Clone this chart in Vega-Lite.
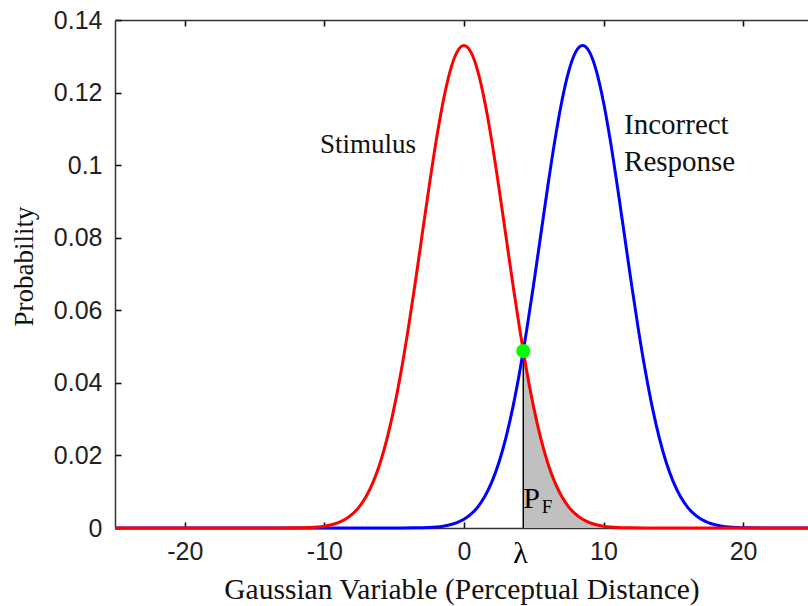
{
  "$schema": "https://vega.github.io/schema/vega-lite/v6.json",
  "width": 693,
  "height": 508,
  "autosize": {"type": "none"},
  "padding": {"left": 115, "top": 20, "right": 0, "bottom": 78},
  "background": "white",
  "config": {
    "view": {"stroke": null},
    "axis": {
      "domainColor": "#333333",
      "domainWidth": 1.5,
      "ticks": true,
      "tickColor": "#111111",
      "tickWidth": 1.6,
      "tickSize": -6,
      "grid": false,
      "labelFont": "Liberation Sans",
      "labelFontSize": 25,
      "labelColor": "#222222",
      "titleFont": "Liberation Serif",
      "titleFontWeight": "normal",
      "titleColor": "#111111"
    }
  },
  "datasets": {
    "red": [
      {"x": -25, "y": 0}, {"x": -13, "y": 0}, {"x": -12, "y": 0.00004}, {"x": -11.5, "y": 0.00009},
      {"x": -11, "y": 0.00016}, {"x": -10.5, "y": 0.00029}, {"x": -10, "y": 0.00051}, {"x": -9.5, "y": 0.00088},
      {"x": -9, "y": 0.00148}, {"x": -8.5, "y": 0.0024}, {"x": -8, "y": 0.0038}, {"x": -7.5, "y": 0.00584},
      {"x": -7, "y": 0.00874}, {"x": -6.5, "y": 0.01272}, {"x": -6, "y": 0.018}, {"x": -5.5, "y": 0.02477},
      {"x": -5, "y": 0.03316}, {"x": -4.5, "y": 0.04317}, {"x": -4, "y": 0.05467}, {"x": -3.5, "y": 0.06733},
      {"x": -3, "y": 0.08066}, {"x": -2.5, "y": 0.09397}, {"x": -2, "y": 0.10648}, {"x": -1.5, "y": 0.11735},
      {"x": -1, "y": 0.12579}, {"x": -0.5, "y": 0.13115}, {"x": 0, "y": 0.13298}, {"x": 0.5, "y": 0.13115},
      {"x": 1, "y": 0.12579}, {"x": 1.5, "y": 0.11735}, {"x": 2, "y": 0.10648}, {"x": 2.5, "y": 0.09397},
      {"x": 3, "y": 0.08066}, {"x": 3.5, "y": 0.06733}, {"x": 4, "y": 0.05467}, {"x": 4.25, "y": 0.04875},
      {"x": 4.5, "y": 0.04317}, {"x": 5, "y": 0.03316}, {"x": 5.5, "y": 0.02477}, {"x": 6, "y": 0.018},
      {"x": 6.5, "y": 0.01272}, {"x": 7, "y": 0.00874}, {"x": 7.5, "y": 0.00584}, {"x": 8, "y": 0.0038},
      {"x": 8.5, "y": 0.0024}, {"x": 9, "y": 0.00148}, {"x": 9.5, "y": 0.00088}, {"x": 10, "y": 0.00051},
      {"x": 10.5, "y": 0.00029}, {"x": 11, "y": 0.00016}, {"x": 11.5, "y": 0.00009}, {"x": 12, "y": 0.00004},
      {"x": 13, "y": 0}, {"x": 25, "y": 0}
    ],
    "blue": [
      {"x": -25, "y": 0}, {"x": -4.5, "y": 0}, {"x": -3.5, "y": 0.00004}, {"x": -3, "y": 0.00009},
      {"x": -2.5, "y": 0.00016}, {"x": -2, "y": 0.00029}, {"x": -1.5, "y": 0.00051}, {"x": -1, "y": 0.00088},
      {"x": -0.5, "y": 0.00148}, {"x": 0, "y": 0.0024}, {"x": 0.5, "y": 0.0038}, {"x": 1, "y": 0.00584},
      {"x": 1.5, "y": 0.00874}, {"x": 2, "y": 0.01272}, {"x": 2.5, "y": 0.018}, {"x": 3, "y": 0.02477},
      {"x": 3.5, "y": 0.03316}, {"x": 4, "y": 0.04317}, {"x": 4.25, "y": 0.04875}, {"x": 4.5, "y": 0.05467},
      {"x": 5, "y": 0.06733}, {"x": 5.5, "y": 0.08066}, {"x": 6, "y": 0.09397}, {"x": 6.5, "y": 0.10648},
      {"x": 7, "y": 0.11735}, {"x": 7.5, "y": 0.12579}, {"x": 8, "y": 0.13115}, {"x": 8.5, "y": 0.13298},
      {"x": 9, "y": 0.13115}, {"x": 9.5, "y": 0.12579}, {"x": 10, "y": 0.11735}, {"x": 10.5, "y": 0.10648},
      {"x": 11, "y": 0.09397}, {"x": 11.5, "y": 0.08066}, {"x": 12, "y": 0.06733}, {"x": 12.5, "y": 0.05467},
      {"x": 13, "y": 0.04317}, {"x": 13.5, "y": 0.03316}, {"x": 14, "y": 0.02477}, {"x": 14.5, "y": 0.018},
      {"x": 15, "y": 0.01272}, {"x": 15.5, "y": 0.00874}, {"x": 16, "y": 0.00584}, {"x": 16.5, "y": 0.0038},
      {"x": 17, "y": 0.0024}, {"x": 17.5, "y": 0.00148}, {"x": 18, "y": 0.00088}, {"x": 18.5, "y": 0.00051},
      {"x": 19, "y": 0.00029}, {"x": 19.5, "y": 0.00016}, {"x": 20, "y": 0.00009}, {"x": 20.5, "y": 0.00004},
      {"x": 21.5, "y": 0}, {"x": 25, "y": 0}
    ]
  },
  "encoding": {
    "x": {"field": "x", "type": "quantitative", "scale": {"domain": [-25, 24.65], "nice": false, "zero": false}, "axis": null},
    "y": {
      "field": "y", "type": "quantitative",
      "scale": {"domain": [0, 0.14], "nice": false},
      "axis": {
        "values": [0, 0.02, 0.04, 0.06, 0.08, 0.1, 0.12, 0.14],
        "format": "~g",
        "labelPadding": 19,
        "title": "Probability",
        "titleFontSize": 27,
        "titlePadding": 15,
        "titleY": 246
      }
    }
  },
  "layer": [
    {
      "data": {"name": "red"},
      "transform": [{"filter": "datum.x >= 4.25 && datum.x <= 13"}],
      "mark": {"type": "area", "color": "#c0c0c0", "interpolate": "monotone"},
      "encoding": {
        "x": {
          "field": "x", "type": "quantitative",
          "axis": {
            "orient": "bottom",
            "values": [-20, -10, 0, 10, 20],
            "labelExpr": "'' + datum.value",
            "labelPadding": 17,
            "title": "Gaussian Variable (Perceptual Distance)",
            "titleFontSize": 29.5,
            "titlePadding": 11
          }
        }
      }
    },
    {
      "data": {"values": [{"x": 4.25, "y": 0, "y2": 0.04875}]},
      "mark": {"type": "rule", "color": "#000000", "strokeWidth": 1.5},
      "encoding": {"y2": {"field": "y2"}}
    },
    {
      "data": {"name": "blue"},
      "mark": {"type": "line", "color": "#0000ff", "strokeWidth": 3, "interpolate": "monotone"},
      "encoding": {}
    },
    {
      "data": {"name": "red"},
      "mark": {"type": "line", "color": "#ff0000", "strokeWidth": 3, "interpolate": "monotone"},
      "encoding": {
        "x": {
          "field": "x", "type": "quantitative",
          "axis": {"orient": "top", "values": [-20, -10, 0, 10, 20], "labels": false, "title": null}
        }
      }
    },
    {
      "data": {"values": [{"x": 4.25, "y": 0.04875}]},
      "mark": {"type": "point", "filled": true, "color": "#00ff00", "size": 200, "opacity": 1}
    },
    {
      "data": {"values": [{"t": "Stimulus", "x": -6.88, "y": 0.1055}]},
      "mark": {"type": "text", "font": "Liberation Serif", "fontSize": 27, "align": "center", "baseline": "middle", "color": "#111111"},
      "encoding": {"text": {"field": "t"}}
    },
    {
      "data": {"values": [{"t": "Incorrect", "x": 11.47, "y": 0.1111}, {"t": "Response", "x": 11.47, "y": 0.1009}]},
      "mark": {"type": "text", "font": "Liberation Serif", "fontSize": 29, "align": "left", "baseline": "middle", "color": "#111111"},
      "encoding": {"text": {"field": "t"}}
    },
    {
      "data": {"values": [{"t": "λ", "x": 4.05, "y": -0.0072}]},
      "mark": {"type": "text", "font": "Liberation Serif", "fontSize": 30, "align": "center", "baseline": "middle", "color": "#000000"},
      "encoding": {"text": {"field": "t"}}
    },
    {
      "data": {"values": [{"t": "P", "x": 4.85, "y": 0.0079}]},
      "mark": {"type": "text", "font": "Liberation Serif", "fontSize": 30, "align": "center", "baseline": "middle", "color": "#000000"},
      "encoding": {"text": {"field": "t"}}
    },
    {
      "data": {"values": [{"t": "F", "x": 5.95, "y": 0.0057}]},
      "mark": {"type": "text", "font": "Liberation Serif", "fontSize": 19, "align": "center", "baseline": "middle", "color": "#000000"},
      "encoding": {"text": {"field": "t"}}
    }
  ],
  "resolve": {"axis": {"x": "independent"}}
}
